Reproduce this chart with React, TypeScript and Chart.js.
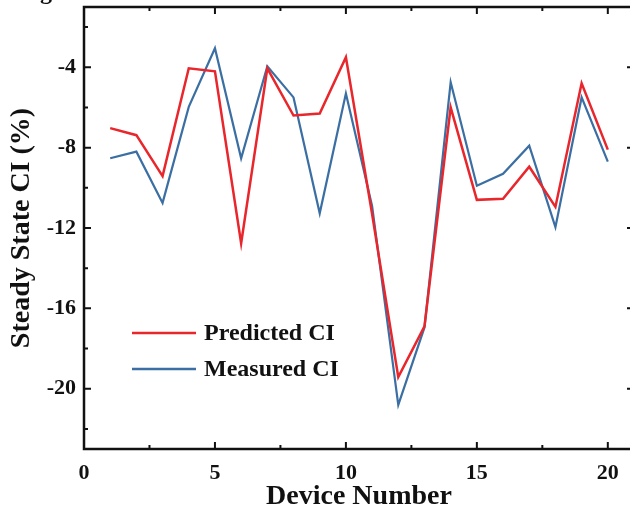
import React, { useEffect, useRef } from "react";
import { Chart, registerables } from "chart.js";

Chart.register(...registerables);

const deviceNumbers = [1, 2, 3, 4, 5, 6, 7, 8, 9, 10, 11, 12, 13, 14, 15, 16, 17, 18, 19, 20];
const predictedCI = [-7.03, -7.38, -9.42, -4.05, -4.2, -12.76, -4.05, -6.4, -6.3, -3.5, -11.3, -19.42, -16.9, -6.0, -10.6, -10.55, -8.95, -10.95, -4.8, -8.1];
const measuredCI = [-8.53, -8.2, -10.75, -5.97, -3.05, -8.53, -3.95, -5.5, -11.27, -5.3, -10.9, -20.8, -16.95, -4.75, -9.9, -9.3, -7.9, -11.96, -5.5, -8.7];
const seriesNames = ["Predicted CI", "Measured CI"];
const xTickValues = [0, 5, 10, 15, 20];
const xMinorTicks = [2.5, 7.5, 12.5, 17.5];
const yTickValues = [-20, -16, -12, -8, -4];
const yMinorTicks = [-22, -18, -14, -10, -6, -2];
const xTitle = "Device Number";
const yTitle = "Steady State CI (%)";
const cutTitleFragment = "g";

const RED = "#e8262b";
const BLUE = "#3b6fa3";
const FONT = "'Liberation Serif', 'Times New Roman', serif";

const framePlugin = {
  id: "framePlugin",
  afterDatasetsDraw(chart: any) {
    const { ctx, chartArea, scales } = chart;
    const { left, top, right, bottom } = chartArea;
    const x = scales.x;
    const y = scales.y;
    ctx.save();
    ctx.strokeStyle = "#111";
    ctx.lineWidth = 2.5;
    ctx.strokeRect(left, top, right - left, bottom - top);
    ctx.lineWidth = 2;
    const major = 7;
    const minor = 4;
    const vTick = (v: number, len: number) => {
      const px = x.getPixelForValue(v);
      ctx.beginPath();
      ctx.moveTo(px, bottom);
      ctx.lineTo(px, bottom - len);
      ctx.moveTo(px, top);
      ctx.lineTo(px, top + len);
      ctx.stroke();
    };
    const hTick = (v: number, len: number) => {
      const py = y.getPixelForValue(v);
      ctx.beginPath();
      ctx.moveTo(left, py);
      ctx.lineTo(left + len, py);
      ctx.moveTo(right, py);
      ctx.lineTo(right - len, py);
      ctx.stroke();
    };
    xTickValues.forEach((v) => vTick(v, major));
    xMinorTicks.forEach((v) => vTick(v, minor));
    yTickValues.forEach((v) => hTick(v, major));
    yMinorTicks.forEach((v) => hTick(v, minor));

    // legend
    const colors = [RED, BLUE];
    ctx.font = `bold 24px ${FONT}`;
    ctx.textBaseline = "middle";
    ctx.textAlign = "left";
    seriesNames.forEach((name, i) => {
      const ly = 333 + i * 36;
      ctx.strokeStyle = colors[i];
      ctx.lineWidth = 2.5;
      ctx.beginPath();
      ctx.moveTo(132, ly);
      ctx.lineTo(196, ly);
      ctx.stroke();
      ctx.fillStyle = "#111";
      ctx.fillText(name, 204, ly + 1);
    });

    // cut-off title fragment at the top edge
    ctx.font = `bold 24px ${FONT}`;
    ctx.textBaseline = "alphabetic";
    ctx.fillText(cutTitleFragment, 40, -1);
    ctx.restore();
  },
};

export default function App() {
  const ref = useRef<HTMLCanvasElement>(null);
  useEffect(() => {
    document.body.style.margin = "0";
    document.body.style.overflow = "hidden";
    const canvas = ref.current!;
    const chart = new Chart(canvas, {
      type: "line",
      data: {
        datasets: [
          {
            label: seriesNames[0],
            data: deviceNumbers.map((d, i) => ({ x: d, y: predictedCI[i] })),
            borderColor: RED,
            borderWidth: 2.5,
            pointRadius: 0,
            tension: 0,
          },
          {
            label: seriesNames[1],
            data: deviceNumbers.map((d, i) => ({ x: d, y: measuredCI[i] })),
            borderColor: BLUE,
            borderWidth: 2.2,
            pointRadius: 0,
            tension: 0,
          },
        ],
      },
      options: {
        responsive: false,
        animation: false,
        layout: { padding: { top: 7, right: 6, left: 0, bottom: 0 } },
        plugins: { legend: { display: false }, tooltip: { enabled: false } },
        scales: {
          x: {
            type: "linear",
            min: 0,
            max: 21,
            grid: { display: false, drawTicks: false },
            border: { display: false },
            afterBuildTicks: (s: any) => {
              s.ticks = xTickValues.map((v) => ({ value: v }));
            },
            afterFit: (s: any) => {
              s.height = 71;
              s.paddingLeft = 0;
              s.paddingRight = 0;
            },
            ticks: {
              color: "#111",
              padding: 11,
              maxRotation: 0,
              font: { family: FONT, size: 22, weight: "bold" },
              callback: (v: any) => String(v),
            },
            title: {
              display: true,
              text: xTitle,
              color: "#111",
              font: { family: FONT, size: 28, weight: "bold" },
              padding: { top: 0, bottom: 6 },
            },
          },
          y: {
            type: "linear",
            min: -23,
            max: -1,
            grid: { display: false, drawTicks: false },
            border: { display: false },
            afterBuildTicks: (s: any) => {
              s.ticks = yTickValues.map((v) => ({ value: v }));
            },
            afterFit: (s: any) => {
              s.width = 84;
              s.paddingTop = 0;
              s.paddingBottom = 0;
            },
            ticks: {
              color: "#111",
              padding: 8,
              font: { family: FONT, size: 22, weight: "bold" },
              callback: (v: any) => String(v),
            },
            title: {
              display: true,
              text: yTitle,
              color: "#111",
              font: { family: FONT, size: 28, weight: "bold" },
              padding: { top: 5, bottom: 0 },
            },
          },
        },
      },
      plugins: [framePlugin],
    } as any);
    return () => chart.destroy();
  }, []);
  return (
    <div style={{ width: 630, height: 520, overflow: "hidden", background: "#fff" }}>
      <canvas ref={ref} width={640} height={520} style={{ width: 640, height: 520, display: "block" }} />
    </div>
  );
}
